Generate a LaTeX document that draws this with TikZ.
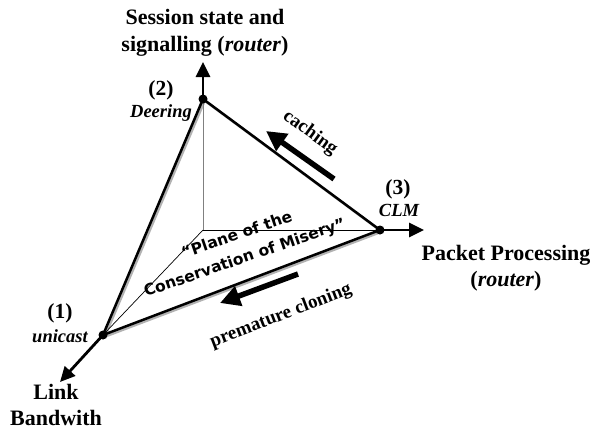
\documentclass[tikz,border=0pt]{standalone}
\usepackage{fontspec}
\setmainfont{Liberation Serif}
\newfontfamily\comicfont{DejaVu Sans}
\usetikzlibrary{arrows.meta}
\begin{document}
\begin{tikzpicture}[x=1pt,y=-1pt,
  edge/.style={line width=2.5pt},
  shadowline/.style={line width=2.4pt,gray!60},
  thinaxis/.style={line width=0.9pt},
  axisarrow/.style={line width=2.8pt,-{Triangle[length=15pt,width=14pt]}},
  bigarrow/.style={line width=5.5pt,-{Triangle[length=20pt,width=20pt]}},
  vdot/.style={circle,fill=black,inner sep=0pt,minimum size=9pt},
  axislabel/.style={font=\fontsize{22}{26.5}\selectfont\bfseries,align=center,inner sep=0pt},
  numlabel/.style={font=\fontsize{21.5}{24}\selectfont\bfseries,inner sep=0pt},
  namelabel/.style={font=\fontsize{18.5}{22}\selectfont\bfseries\itshape,inner sep=0pt},
  edgelabel/.style={font=\fontsize{19}{22}\selectfont\bfseries,inner sep=0pt},
  planelabel/.style={font=\fontsize{15.5}{24}\selectfont\comicfont\bfseries,align=center,inner sep=0pt}
]
\useasboundingbox (0,0) rectangle (592,432);
\fill[white] (0,0) rectangle (592,432);
% vertices
\coordinate (O) at (203,230);
\coordinate (P2) at (203,99);
\coordinate (P3) at (380,230);
\coordinate (P1) at (103,335);
\coordinate (A2) at (203,62);
\coordinate (A3) at (424,230);
\coordinate (A1) at (60,382);
\coordinate (S1) at (104.7,336.7);
\coordinate (S2) at (204.7,100.7);
\coordinate (S3) at (381.7,231.7);
% shadows
\draw[shadowline] (S1) -- (S2) -- (S3) -- cycle;
% inner axes
\draw[thinaxis,gray] (O) -- (P2);
\draw[thinaxis] (O) -- (P3);
\draw[line width=0.7pt] (O) -- (P1);
% triangle edges
\draw[edge,line join=miter] (P1) -- (P2) -- (P3) -- cycle;
% axis arrows
\draw[axisarrow] (P2) -- (A2);
\draw[axisarrow] (P3) -- (A3);
\draw[axisarrow] (P1) -- (A1);
% vertex dots
\node[vdot] (D1) at (P1) {};
\node[vdot] (D2) at (P2) {};
\node[vdot] (D3) at (P3) {};
% big arrows
\coordinate (C1) at (334,179);
\coordinate (C2) at (266,131);
\draw[bigarrow] (C1) -- (C2);
\coordinate (M1) at (298,274);
\coordinate (M2) at (220,303);
\draw[bigarrow] (M1) -- (M2);
% labels
\node[axislabel] (Lsess) at (205,33) {Session state and\\signalling (\textit{router})};
\node[axislabel] (Lpack) at (506,268) {Packet Processing\\(\textit{router})};
\node[axislabel,font=\fontsize{22}{25.5}\selectfont\bfseries] (Llink) at (56,405) {Link\\Bandwith};
\node[numlabel] (N2) at (161,90) {(2)};
\node[namelabel] (T2) at (161,113) {Deering};
\node[numlabel] (N3) at (398,189) {(3)};
\node[namelabel] (T3) at (399,210) {CLM};
\node[numlabel] (N1) at (60,313) {(1)};
\node[namelabel] (T1) at (60,336) {unicast};
\node[edgelabel,rotate=-36] (Lcache) at (310,133) {caching};
\node[edgelabel,rotate=21] (Lprem) at (281,316) {premature cloning};
\node[planelabel,rotate=19] (Lplane) at (241,247) {“Plane of the\\Conservation of Misery”};
\end{tikzpicture}
\end{document}
